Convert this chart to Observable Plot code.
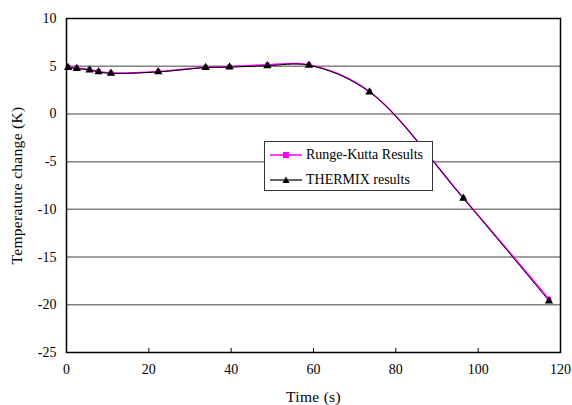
<!DOCTYPE html>
<html>
<head>
<meta charset="utf-8">
<script src="https://cdn.jsdelivr.net/npm/d3@7"></script>
<script src="https://cdn.jsdelivr.net/npm/@observablehq/plot@0.6"></script>
<style>
  html, body { margin: 0; padding: 0; background: #fff; }
  #wrap { position: relative; width: 572px; height: 405px; font-family: "Liberation Serif", "DejaVu Serif", serif; }
  #wrap svg g[aria-label="x-axis label"] text, #wrap svg g[aria-label="y-axis label"] text { font-size: 15.5px; letter-spacing: 0.3px; }
  #legend { position: absolute; left: 264px; top: 141px; width: 169px; height: 50px; border: 1px solid #333; background: #fff; box-sizing: border-box; font-size: 14px; color: #000; }
  #legend .row { position: absolute; left: 5px; height: 20px; display: flex; align-items: center; white-space: nowrap; }
  #legend svg { margin-right: 4px; }
</style>
</head>
<body>
<div id="wrap"></div>
<script>
const time = [0.4, 2.5, 5.6, 7.8, 10.8, 22.3, 33.8, 39.6, 48.8, 58.9, 73.6, 96.4, 117.2];
const rungeKutta = [4.9, 4.8, 4.65, 4.45, 4.3, 4.45, 4.9, 4.95, 5.15, 5.15, 2.35, -8.8, -19.4];
const thermix = [4.85, 4.75, 4.6, 4.4, 4.25, 4.4, 4.85, 4.9, 5.05, 5.1, 2.3, -8.85, -19.6];
const yTicks = [-25, -20, -15, -10, -5, 0, 5, 10];
const xTicks = [0, 20, 40, 60, 80, 100, 120];
const gridY = [-20, -15, -10, -5, 0, 5];
const seriesNames = ["Runge-Kutta Results", "THERMIX results"];

const rk = time.map((t, i) => ({t, v: rungeKutta[i]}));
const th = time.map((t, i) => ({t, v: thermix[i]}));
const fmt = d => String(d);

const chart = Plot.plot({
  width: 572,
  height: 405,
  marginLeft: 66,
  marginRight: 12,
  marginTop: 18,
  marginBottom: 53,
  style: {fontFamily: "Liberation Serif", fontSize: "14px", color: "#000", background: "#fff"},
  x: {domain: [0, 120]},
  y: {domain: [-25, 10]},
  marks: [
    Plot.ruleY(gridY, {stroke: "#808080", strokeWidth: 1.5}),
    Plot.axisX({ticks: xTicks, tickSize: -4, text: null, label: null, stroke: "#000"}),
    Plot.axisX({ticks: xTicks, tickSize: 0, tickPadding: 12, tickFormat: fmt, label: "Time (s)", labelAnchor: "center", labelArrow: "none", labelOffset: 49, fontSize: 14}),
    Plot.axisY({ticks: yTicks, tickSize: 0, tickPadding: 10, tickFormat: fmt, label: "Temperature change (K)", labelAnchor: "center", labelArrow: "none", labelOffset: 56, fontSize: 14}),
    Plot.line(rk, {x: "t", y: "v", stroke: "#ff00ff", strokeWidth: 1.5, curve: "catmull-rom"}),
    Plot.line(th, {x: "t", y: "v", stroke: "#000", strokeWidth: 1, curve: "catmull-rom"}),
    Plot.dot(rk, {x: "t", y: "v", symbol: "square", r: 2.6, fill: "#ff00ff"}),
    Plot.dot(th, {x: "t", y: "v", symbol: "triangle", r: 3.1, fill: "#000"}),
    Plot.frame({stroke: "#000", strokeWidth: 1.5})
  ]
});

const wrap = document.getElementById("wrap");
wrap.appendChild(chart);

const legend = document.createElement("div");
legend.id = "legend";
const swatches = [
  `<svg width="32" height="10"><line x1="0" y1="5" x2="32" y2="5" stroke="#ff00ff" stroke-width="1.5"/><rect x="13" y="2" width="6" height="6" fill="#ff00ff"/></svg>`,
  `<svg width="32" height="10"><line x1="0" y1="5" x2="32" y2="5" stroke="#000" stroke-width="1.2"/><path d="M16,1.5 L19.5,8 L12.5,8 Z" fill="#000"/></svg>`
];
seriesNames.forEach((name, i) => {
  const row = document.createElement("div");
  row.className = "row";
  row.style.top = (i === 0 ? 3 : 28) + "px";
  row.innerHTML = swatches[i] + `<span>${name}</span>`;
  legend.appendChild(row);
});
wrap.appendChild(legend);
</script>
</body>
</html>
